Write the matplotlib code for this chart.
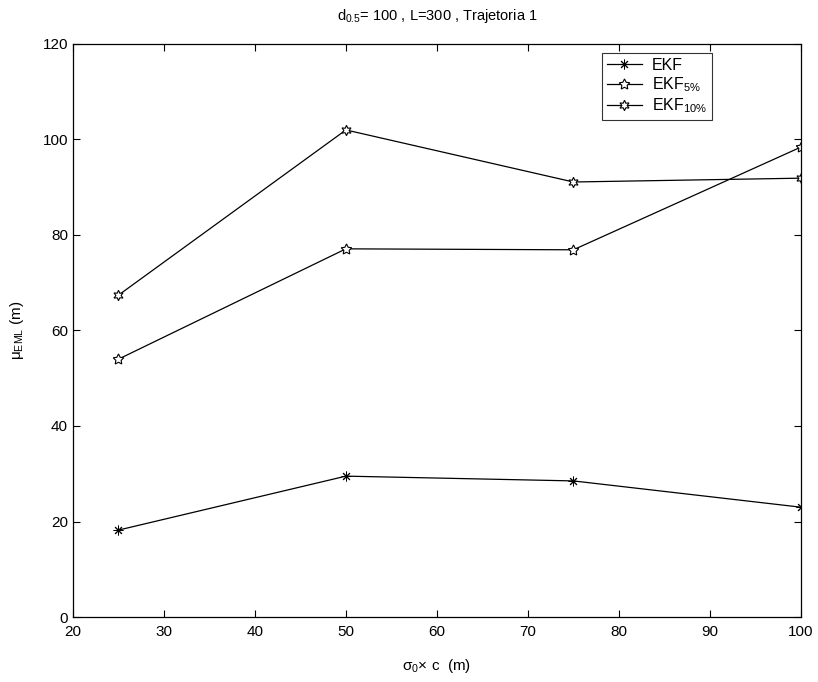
import matplotlib
matplotlib.use('Agg')
import matplotlib.pyplot as plt

# data
sigma_c = [25, 50, 75, 100]
ekf = [18.2, 29.5, 28.5, 23.0]
ekf_5 = [54.0, 77.1, 76.9, 98.4]
ekf_10 = [67.4, 102.0, 91.1, 91.9]

x_ticks = [20, 30, 40, 50, 60, 70, 80, 90, 100]
y_ticks = [0, 20, 40, 60, 80, 100, 120]

plt.rcParams['font.family'] = ['Liberation Sans', 'DejaVu Sans']
plt.rcParams['mathtext.fontset'] = 'custom'
plt.rcParams['mathtext.rm'] = 'Liberation Sans'
plt.rcParams['mathtext.it'] = 'Liberation Sans'
plt.rcParams['mathtext.default'] = 'regular'

fig = plt.figure(figsize=(8.18, 6.82), dpi=100, facecolor='white')
ax = fig.add_axes([0.0892, 0.0953, 0.8898, 0.8402])

ax.plot(sigma_c, ekf, color='black', linewidth=0.9, marker=(8, 2, 0),
        markersize=7, markeredgewidth=0.7, label='EKF')
ax.plot(sigma_c, ekf_5, color='black', linewidth=0.9, marker=(5, 1, 0),
        markersize=8, markeredgewidth=0.8, markerfacecolor='white', label='EKF$_{5\\%}$')
ax.plot(sigma_c, ekf_10, color='black', linewidth=0.9, marker=(6, 1, 0),
        markersize=7.5, markeredgewidth=0.8, markerfacecolor='white', label='EKF$_{10\\%}$')

ax.set_xlim(20, 100)
ax.set_ylim(0, 120)
ax.set_xticks(x_ticks)
ax.set_yticks(y_ticks)
ax.tick_params(direction='in', top=True, right=True, length=5, width=0.8, labelsize=11)
ax.tick_params(axis='x', pad=6)
for sp in ax.spines.values():
    sp.set_linewidth(0.9)

ax.set_title('d$_{0.5}$= 100 , L=300 , Trajetoria 1', fontsize=10.5, pad=17)
ax.set_xlabel('$\\sigma_0$$\\times$ c  (m)', fontsize=11, labelpad=13)
ax.set_ylabel('$\\mu_{EML}$ (m)', fontsize=11, labelpad=12)

leg = ax.legend(loc='upper left', bbox_to_anchor=(0.727, 0.984), fontsize=11.5,
                frameon=True, fancybox=False, edgecolor='black', handlelength=2.2,
                borderpad=0.3, labelspacing=0.15, handletextpad=0.6, borderaxespad=0)
leg.get_frame().set_linewidth(0.8)

fig.savefig('out.png', dpi=100, facecolor='white')
